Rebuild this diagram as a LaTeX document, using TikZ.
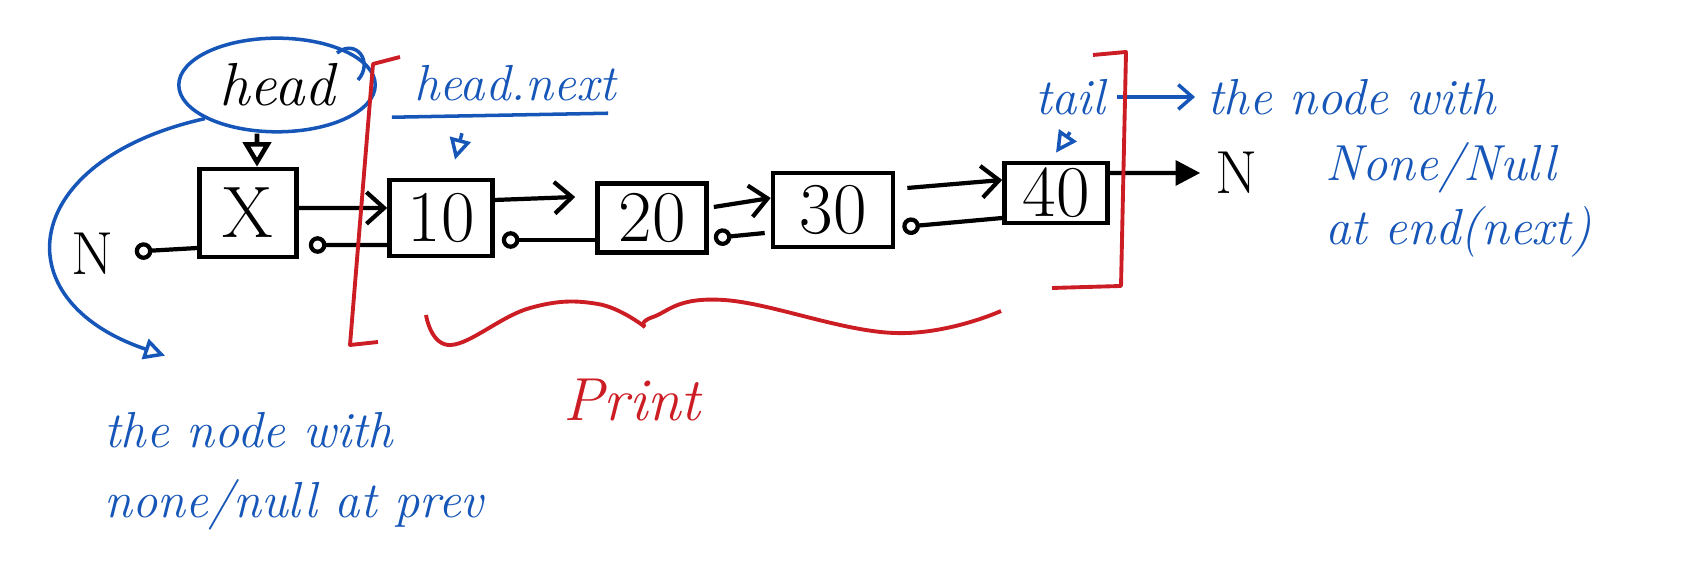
\documentclass[tikz,border=0pt]{standalone}
\usetikzlibrary{arrows.meta}
\usetikzlibrary{shapes.geometric}
\definecolor{inkblue}{RGB}{22,86,184}
\definecolor{inkred}{RGB}{204,28,36}
\tikzstyle{listnode}=[draw, line width=1.3pt, inner sep=0pt, font=\huge]
\tikzstyle{link}=[line width=1.2pt, -{Straight Barb[length=5pt,width=9pt]}]
\tikzstyle{backlink}=[line width=1.2pt, -{Circle[open,length=5pt]}]
\tikzstyle{nullend}=[font=\LARGE]
\tikzstyle{note}=[inkblue, font=\Large\itshape]
\tikzstyle{pointer}=[inkblue, line width=1pt, -{Triangle[open,length=6pt,width=6pt]}]
\tikzstyle{bracket}=[inkred, line width=1.1pt, line join=round]

\begin{document}
\begin{tikzpicture}[x=0.01cm, y=-0.01cm]
  \useasboundingbox (0,0) rectangle (1695,568);
  \node[listnode, minimum width=0.97cm, minimum height=0.88cm] (x) at (248,213) {X};
  \node[listnode, minimum width=1.03cm, minimum height=0.76cm] (ten) at (441,218) {10};
  \node[listnode, minimum width=1.09cm, minimum height=0.69cm] (twenty) at (652,218) {20};
  \node[listnode, minimum width=1.20cm, minimum height=0.74cm] (thirty) at (833,210) {30};
  \node[listnode, minimum width=1.03cm, minimum height=0.60cm] (forty) at (1056,193) {40};
  \node[nullend, inner xsep=0.2cm] (nullprev) at (93,254) {N};
  \node[nullend, inner xsep=0.15cm] (nullnext) at (1237,173) {N};
  \draw[link] ([yshift=0.05cm]x.east) -- ([yshift=0.10cm]ten.west);
  \draw[backlink] ([yshift=-0.27cm]ten.west) -- ([xshift=0.10cm,yshift=-0.32cm]x.east);
  \draw[link] ([yshift=0.18cm]ten.east) -- ([xshift=-0.20cm,yshift=0.21cm]twenty.west);
  \draw[backlink] ([yshift=-0.22cm]twenty.west) -- ([xshift=0.07cm,yshift=-0.22cm]ten.east);
  \draw[link] ([xshift=0.05cm,yshift=0.11cm]twenty.east) -- ([yshift=0.12cm]thirty.west);
  \draw[backlink] ([xshift=-0.06cm,yshift=-0.23cm]thirty.west) -- ([xshift=0.05cm,yshift=-0.20cm]twenty.east);
  \draw[link] ([xshift=0.12cm,yshift=0.22cm]thirty.east) -- ([yshift=0.13cm]forty.west);
  \draw[backlink] ([yshift=-0.25cm]forty.west) -- ([xshift=0.07cm,yshift=-0.17cm]thirty.east);
  \draw[backlink] ([yshift=-0.35cm]x.west) -- (nullprev);
  \draw[line width=1.2pt, -{Triangle[length=7pt,width=7pt]}] ([yshift=0.20cm]forty.east) -- (nullnext);

  \node[draw=inkblue, line width=1pt, ellipse, minimum width=1.7cm, minimum height=0.84cm, font=\LARGE\itshape] (headlbl) at (277,85) {head};
  \draw[inkblue, line width=1pt] (337,53) .. controls (356,38) and (374,62) .. (358,80);
  \draw[line width=1.3pt, -{Triangle[open,length=7pt,width=8pt]}] ([xshift=-0.2cm]headlbl.south) -- ([xshift=0.09cm]x.north);
  \node[note] (nextlbl) at (515,83) {head.next};
  \draw[inkblue, line width=1pt] ([xshift=-0.1cm,yshift=-0.04cm]nextlbl.south west) -- ([xshift=-0.2cm]nextlbl.south east);
  \draw[pointer] ([xshift=-0.53cm,yshift=-0.2cm]nextlbl.south) -- ([xshift=0.14cm,yshift=0.18cm]ten.north);
  \node[note] (taillbl) at (1070,97) {tail};
  \draw[pointer] ([yshift=-0.05cm]taillbl.south) -- ([yshift=0.08cm]forty.north);

  \node[note, anchor=west] (tailnote) at (1195,97) {the node with};
  \node[note, anchor=west] (tailnote2) at (1313,168) {None/Null};
  \node[note, anchor=west] (tailnote3) at (1313,232) {at end(next)};
  \draw[inkblue, line width=1pt, -{Straight Barb[length=4pt,width=7pt]}] (taillbl) -- (tailnote);

  \node[note, anchor=west] (prevnote) at (92,430) {the node with};
  \node[note, anchor=west] (prevnote2) at (92,505) {none/null at prev};
  \draw[pointer] (headlbl.205) .. controls (20,160) and (0,300) .. ([xshift=0.73cm,yshift=0.44cm]prevnote.north west);

  \draw[bracket] (400,57) -- (373,64) -- (350,345) -- (378,342);
  \draw[bracket] (1093,55) -- (1126,52) -- (1121,286) -- (1052,288);
  \draw[bracket] plot[smooth, tension=0.7] coordinates {(426,315) (451,345) (530,308) (598,304) (645,327)};
  \draw[bracket] plot[smooth, tension=0.7] coordinates {(645,327) (653,317) (724,300) (894,333) (1001,311)};
  \node[inkred, font=\LARGE\itshape] (printlbl) at (632,400) {Print};
\end{tikzpicture}
\end{document}
